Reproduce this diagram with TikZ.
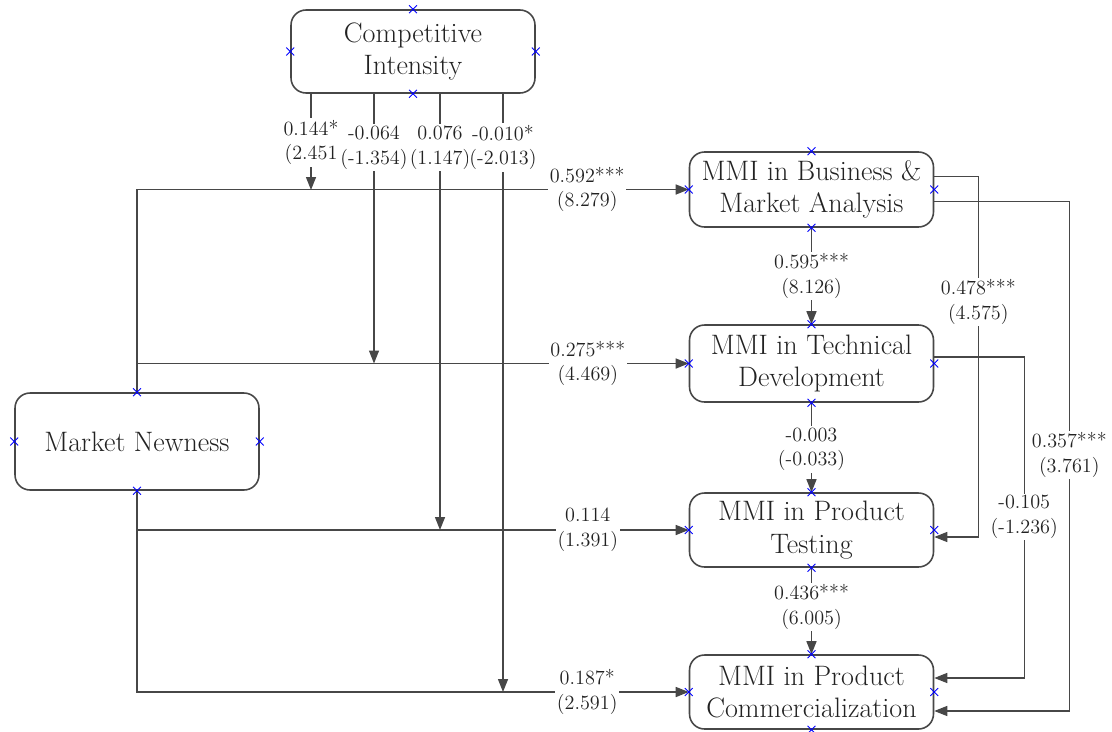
\documentclass[tikz,border=0pt]{standalone}
\usetikzlibrary{arrows.meta,shapes.misc}
\definecolor{linegray}{HTML}{474747}
\definecolor{textgray}{HTML}{222222}
\begin{document}
\begin{tikzpicture}[
    x=0.02cm, y=-0.02cm,
    construct/.style={draw=linegray, line width=0.9pt, rounded corners=0.3cm, minimum width=4.88cm, align=center, text=textgray, font=\fontsize{16}{18.5}\selectfont, inner sep=2pt},
    pathedge/.style={-{Triangle[length=0.26cm, width=0.2cm]}, draw=linegray, line width=0.8pt},
    coef/.style={fill=white, inner sep=1pt, align=center, text=textgray, font=\fontsize{11.5}{14}\selectfont},
    cpoint/.style={cross out, draw=blue, line width=0.5pt, minimum size=4pt, inner sep=0pt}
]
\useasboundingbox (0,0) rectangle (1112,731);

\node[construct, minimum height=1.66cm] (ci)  at (413,51.5)  {Competitive\\Intensity};
\node[construct, minimum height=1.94cm] (mn)  at (137,441.5) {Market Newness};
\node[construct, minimum height=1.50cm] (bma) at (811.5,189.5) {MMI in Business \&\\Market Analysis};
\node[construct, minimum height=1.54cm] (tdv) at (811.5,363.5) {MMI in Technical\\Development};
\node[construct, minimum height=1.48cm] (pt)  at (811.5,530)   {MMI in Product\\Testing};
\node[construct, minimum height=1.48cm] (pc)  at (811.5,692)   {MMI in Product\\Commercialization};

% direct effects of market newness
\draw[pathedge] (mn.north) |- node[coef, pos=0.908] {0.592***\\(8.279)} (bma.west);
\draw[pathedge] (mn.north |- tdv.west) -- node[coef, pos=0.817] {0.275***\\(4.469)} (tdv.west);
\draw[pathedge] (mn.south |- pt.west) -- node[coef, pos=0.817] {0.114\\(1.391)} (pt.west);
\draw[pathedge] (mn.south) |- node[coef, pos=0.908] {0.187*\\(2.591)} (pc.west);

% moderating effects of competitive intensity
\coordinate (ci1) at (311,190);
\coordinate (ci2) at (374,363.5);
\coordinate (ci3) at (440,530);
\coordinate (ci4) at (503,692);
\draw[pathedge] (ci.south -| ci1) -- node[coef, pos=0.505] {0.144*\\(2.451} (ci1);
\draw[pathedge] (ci.south -| ci2) -- node[coef, pos=0.2] {-0.064\\(-1.354)} (ci2);
\draw[pathedge] (ci.south -| ci3) -- node[coef, pos=0.124] {0.076\\(1.147)} (ci3);
\draw[pathedge] (ci.south -| ci4) -- node[coef, pos=0.09] {-0.010*\\(-2.013)} (ci4);

% chain of development stages
\draw[pathedge] (bma.south) -- node[coef] {0.595***\\(8.126)} (tdv.north);
\draw[pathedge] (tdv.south) -- node[coef, pos=0.52] {-0.003\\(-0.033)} (pt.north);
\draw[pathedge] (pt.south) -- node[coef, pos=0.45] {0.436***\\(6.005)} (pc.north);

% skipping paths on the right
\draw[pathedge] ([yshift=0.26cm]bma.east) -- ++(44,0) |- node[coef, pos=0.174] {0.478***\\(4.575)} ([yshift=-0.14cm]pt.east);
\draw[pathedge] ([yshift=0.13cm]tdv.east) -- ++(90,0) |- node[coef, pos=0.249] {-0.105\\(-1.236)} ([yshift=0.28cm]pc.east);
\draw[pathedge] ([yshift=-0.24cm]bma.east) -- ++(135,0) |- node[coef, pos=0.249] {0.357***\\(3.761)} ([yshift=-0.38cm]pc.east);

% connection points
\foreach \n in {ci,mn,bma,tdv,pt,pc}
  \foreach \a in {north,south,east,west}
    \node[cpoint] (\n-\a-x) at (\n.\a) {};

\end{tikzpicture}
\end{document}
